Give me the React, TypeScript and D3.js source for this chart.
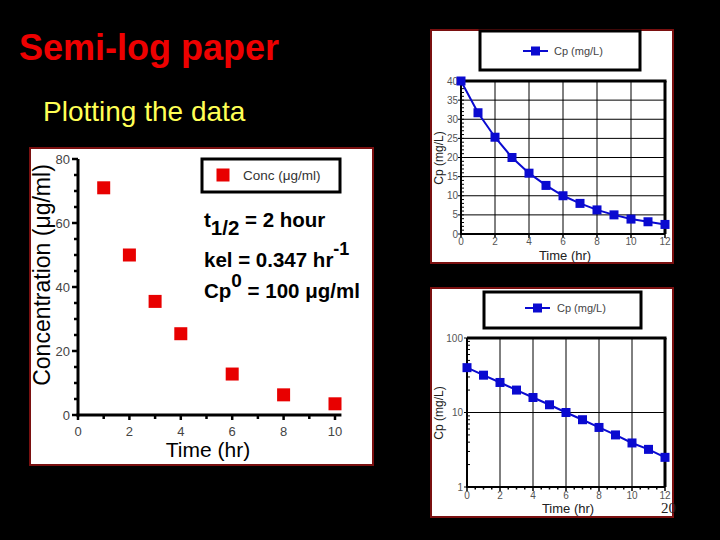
import React from 'react';
import * as d3 from 'd3';

// ---------- data ----------
const concTimes = [1, 2, 3, 4, 6, 8, 10];
const concValues = [71, 50, 35.5, 25.4, 12.8, 6.3, 3.5];
const concXTicks = [0, 2, 4, 6, 8, 10];
const concYTicks = [0, 20, 40, 60, 80];

const cpTimes = [0, 1, 2, 3, 4, 5, 6, 7, 8, 9, 10, 11, 12];
const cpValues = [40, 31.7, 25.3, 20, 15.9, 12.7, 10, 8, 6.3, 5, 3.9, 3.2, 2.5];
const linXTicks = [0, 2, 4, 6, 8, 10, 12];
const linYTicks = [0, 5, 10, 15, 20, 25, 30, 35, 40];
const logYTicks = [1, 10, 100];

const FONT = "'Liberation Sans', Arial, Helvetica, sans-serif";
const PANEL_BORDER = '#7a1010';
const RED = '#e80000';
const BLUE = '#0a0ad0';

function LeftChart() {
  const x = d3.scaleLinear().domain([0, 10]).range([78, 335]);
  const y = d3.scaleLinear().domain([0, 80]).range([415, 159]);
  const yMinor = d3.range(0, 81, 5);
  const xMinor = d3.range(0, 11, 1);
  return (
    <g>
      <rect x={30} y={148} width={343} height={317} fill="#fff" stroke={PANEL_BORDER} strokeWidth={2} />
      {/* axes */}
      <line x1={x(0)} x2={x(0)} y1={y(80)} y2={y(0) + 1.5} stroke="#000" strokeWidth={3} />
      <line x1={x(0) - 1.5} x2={x(10.25)} y1={y(0)} y2={y(0)} stroke="#000" strokeWidth={3} />
      {yMinor.map((v) => (
        <line key={'ym' + v} x1={x(0)} x2={x(0) - (v % 20 === 0 ? 6 : 4)} y1={y(v)} y2={y(v)} stroke="#000" strokeWidth={2.5} />
      ))}
      {xMinor.map((v) => (
        <line key={'xm' + v} x1={x(v)} x2={x(v)} y1={y(0)} y2={y(0) + (v % 2 === 0 ? 5 : 4)} stroke="#000" strokeWidth={2.5} />
      ))}
      {concYTicks.map((v) => (
        <text key={'yl' + v} x={x(0) - 8} y={y(v) + 4.5} textAnchor="end" fontFamily={FONT} fontSize={13} fill="#444">{v}</text>
      ))}
      {concXTicks.map((v) => (
        <text key={'xl' + v} x={x(v)} y={y(0) + 21} textAnchor="middle" fontFamily={FONT} fontSize={13} fill="#444">{v}</text>
      ))}
      {/* titles */}
      <text transform={`translate(50,${275}) rotate(-90)`} textAnchor="middle" fontFamily={FONT} fontSize={23} fill="#000">Concentration (μg/ml)</text>
      <text x={208} y={457} textAnchor="middle" fontFamily={FONT} fontSize={21} fill="#000">Time (hr)</text>
      {/* markers */}
      {concValues.map((v, i) => (
        <rect key={'m' + i} x={x(concTimes[i]) - 6.5} y={y(v) - 6.5} width={13} height={13} fill={RED} />
      ))}
      {/* legend */}
      <rect x={202} y={159} width={138} height={33} fill="#fff" stroke="#000" strokeWidth={3} />
      <rect x={216.5} y={168.5} width={13} height={13} fill={RED} />
      <text x={243} y={180} fontFamily={FONT} fontSize={13.5} fill="#333">Conc (μg/ml)</text>
      {/* annotations */}
      <g fontFamily={FONT} fontSize={20.5} fontWeight="bold" fill="#000">
        <text x={204} y={227}>t<tspan dy={8}>1/2</tspan><tspan dy={-8}> = 2 hour</tspan></text>
        <text x={204} y={267}>kel = 0.347 hr<tspan dy={-12} fontSize={18}>-1</tspan></text>
        <text x={204} y={298}>Cp<tspan dy={-11} fontSize={19}>0</tspan><tspan dy={11}> = 100 μg/ml</tspan></text>
      </g>
    </g>
  );
}

function Legend({ x0, y0, w, h, lineY, lineX1, lineX2, textX }: any) {
  return (
    <g>
      <rect x={x0} y={y0} width={w} height={h} fill="#fff" stroke="#000" strokeWidth={3} />
      <line x1={lineX1} x2={lineX2} y1={lineY} y2={lineY} stroke={BLUE} strokeWidth={2} />
      <rect x={(lineX1 + lineX2) / 2 - 4.5} y={lineY - 4.5} width={9} height={9} fill={BLUE} />
      <text x={textX} y={lineY + 4} fontFamily={FONT} fontSize={11} fill="#444">Cp (mg/L)</text>
    </g>
  );
}

function TopRightChart() {
  const x = d3.scaleLinear().domain([0, 12]).range([461, 665]);
  const y = d3.scaleLinear().domain([0, 40]).range([234, 81]);
  const line = d3.line<number>().x((_, i) => x(cpTimes[i])).y((d) => y(d));
  const yMinor = d3.range(0, 41, 1);
  return (
    <g>
      <rect x={431} y={30} width={242} height={233} fill="#fff" stroke={PANEL_BORDER} strokeWidth={2} />
      <Legend x0={480} y0={31} w={160} h={39} lineY={51} lineX1={523} lineX2={548} textX={554} />
      {/* grid */}
      {linXTicks.slice(1, -1).map((v) => (
        <line key={'gx' + v} x1={x(v)} x2={x(v)} y1={y(40)} y2={y(0)} stroke="#000" strokeWidth={1} />
      ))}
      {linYTicks.slice(1, -1).map((v) => (
        <line key={'gy' + v} x1={x(0)} x2={x(12)} y1={y(v)} y2={y(v)} stroke="#000" strokeWidth={1} />
      ))}
      {/* frame */}
      <line x1={x(0)} x2={x(12) + 1.5} y1={y(40)} y2={y(40)} stroke="#000" strokeWidth={3} />
      <line x1={x(12)} x2={x(12)} y1={y(40)} y2={y(0)} stroke="#000" strokeWidth={3} />
      <line x1={x(0)} x2={x(0)} y1={y(40)} y2={y(0) + 1} stroke="#000" strokeWidth={2} />
      <line x1={x(0) - 1} x2={x(12)} y1={y(0)} y2={y(0)} stroke="#000" strokeWidth={2} />
      {yMinor.map((v) => (
        <line key={'ym' + v} x1={x(0)} x2={x(0) + 3} y1={y(v)} y2={y(v)} stroke="#000" strokeWidth={1} />
      ))}
      {linYTicks.map((v) => (
        <g key={'yt' + v}>
          <line x1={x(0) - 3} x2={x(0)} y1={y(v)} y2={y(v)} stroke="#000" strokeWidth={1} />
          <text x={x(0) - 3} y={y(v) + 3.5} textAnchor="end" fontFamily={FONT} fontSize={10} fill="#555">{v}</text>
        </g>
      ))}
      {linXTicks.map((v) => (
        <g key={'xt' + v}>
          <line x1={x(v)} x2={x(v)} y1={y(0)} y2={y(0) + 4} stroke="#000" strokeWidth={1.5} />
          <text x={x(v)} y={245} textAnchor="middle" fontFamily={FONT} fontSize={10} fill="#555">{v}</text>
        </g>
      ))}
      <text x={565} y={260} textAnchor="middle" fontFamily={FONT} fontSize={13} fill="#222">Time (hr)</text>
      <text transform="translate(443,158) rotate(-90)" textAnchor="middle" fontFamily={FONT} fontSize={12} fill="#222">Cp (mg/L)</text>
      <path d={line(cpValues) || ''} fill="none" stroke={BLUE} strokeWidth={2} />
      {cpValues.map((v, i) => (
        <rect key={'m' + i} x={x(cpTimes[i]) - 4.5} y={y(v) - 4.5} width={9} height={9} fill={BLUE} />
      ))}
    </g>
  );
}

function BottomRightChart() {
  const x = d3.scaleLinear().domain([0, 12]).range([467, 665]);
  const y = d3.scaleLog().domain([1, 100]).range([487, 338]);
  const line = d3.line<number>().x((_, i) => x(cpTimes[i])).y((d) => y(d));
  const yMinor = [2, 3, 4, 5, 6, 7, 8, 9, 20, 30, 40, 50, 60, 70, 80, 90];
  const xMinor = d3.range(0, 12.01, 0.5);
  return (
    <g>
      <rect x={431} y={288} width={242} height={229} fill="#fff" stroke={PANEL_BORDER} strokeWidth={2} />
      <Legend x0={484} y0={292} w={157} h={36} lineY={308} lineX1={525} lineX2={550} textX={557} />
      {[2, 4, 6, 8, 10].map((v) => (
        <line key={'gx' + v} x1={x(v)} x2={x(v)} y1={y(100)} y2={y(1)} stroke="#000" strokeWidth={1} />
      ))}
      <line x1={x(0)} x2={x(12)} y1={y(10)} y2={y(10)} stroke="#000" strokeWidth={1} />
      <line x1={x(0)} x2={x(12) + 1.5} y1={y(100)} y2={y(100)} stroke="#000" strokeWidth={3} />
      <line x1={x(12)} x2={x(12)} y1={y(100)} y2={y(1)} stroke="#000" strokeWidth={3} />
      <line x1={x(0)} x2={x(0)} y1={y(100)} y2={y(1) + 1} stroke="#000" strokeWidth={2} />
      <line x1={x(0) - 1} x2={x(12)} y1={y(1)} y2={y(1)} stroke="#000" strokeWidth={2} />
      {yMinor.map((v) => (
        <line key={'ym' + v} x1={x(0)} x2={x(0) + 3} y1={y(v)} y2={y(v)} stroke="#000" strokeWidth={1} />
      ))}
      {logYTicks.map((v) => (
        <g key={'yt' + v}>
          <line x1={x(0) - 3} x2={x(0)} y1={y(v)} y2={y(v)} stroke="#000" strokeWidth={1} />
          <text x={x(0) - 4} y={y(v) + 3.5} textAnchor="end" fontFamily={FONT} fontSize={10} fill="#555">{v}</text>
        </g>
      ))}
      {xMinor.map((v) => (
        <line key={'xm' + v} x1={x(v)} x2={x(v)} y1={y(1)} y2={y(1) + (v % 2 === 0 ? 4 : 2.5)} stroke="#000" strokeWidth={1.5} />
      ))}
      {linXTicks.map((v) => (
        <text key={'xl' + v} x={x(v)} y={499} textAnchor="middle" fontFamily={FONT} fontSize={10} fill="#555">{v}</text>
      ))}
      <text x={568} y={513} textAnchor="middle" fontFamily={FONT} fontSize={13} fill="#222">Time (hr)</text>
      <text transform="translate(443,413) rotate(-90)" textAnchor="middle" fontFamily={FONT} fontSize={12} fill="#222">Cp (mg/L)</text>
      <path d={line(cpValues) || ''} fill="none" stroke={BLUE} strokeWidth={2} />
      {cpValues.map((v, i) => (
        <rect key={'m' + i} x={x(cpTimes[i]) - 4.5} y={y(v) - 4.5} width={9} height={9} fill={BLUE} />
      ))}
    </g>
  );
}

export default function App() {
  return (
    <svg width={720} height={540} style={{ position: 'fixed', left: 0, top: 0, display: 'block' }}>
      <rect x={0} y={0} width={720} height={540} fill="#000" />
      <text x={19} y={60} fontFamily={FONT} fontSize={36} fontWeight="bold" fill="#ee0000">Semi-log paper</text>
      <text x={43} y={121} fontFamily={FONT} fontSize={28} fill="#ffff55">Plotting the data</text>
      <LeftChart />
      <TopRightChart />
      <BottomRightChart />
      <text x={661} y={513} fontFamily="'Liberation Serif', 'Times New Roman', serif" fontSize={15} fill="#222">20</text>
    </svg>
  );
}
